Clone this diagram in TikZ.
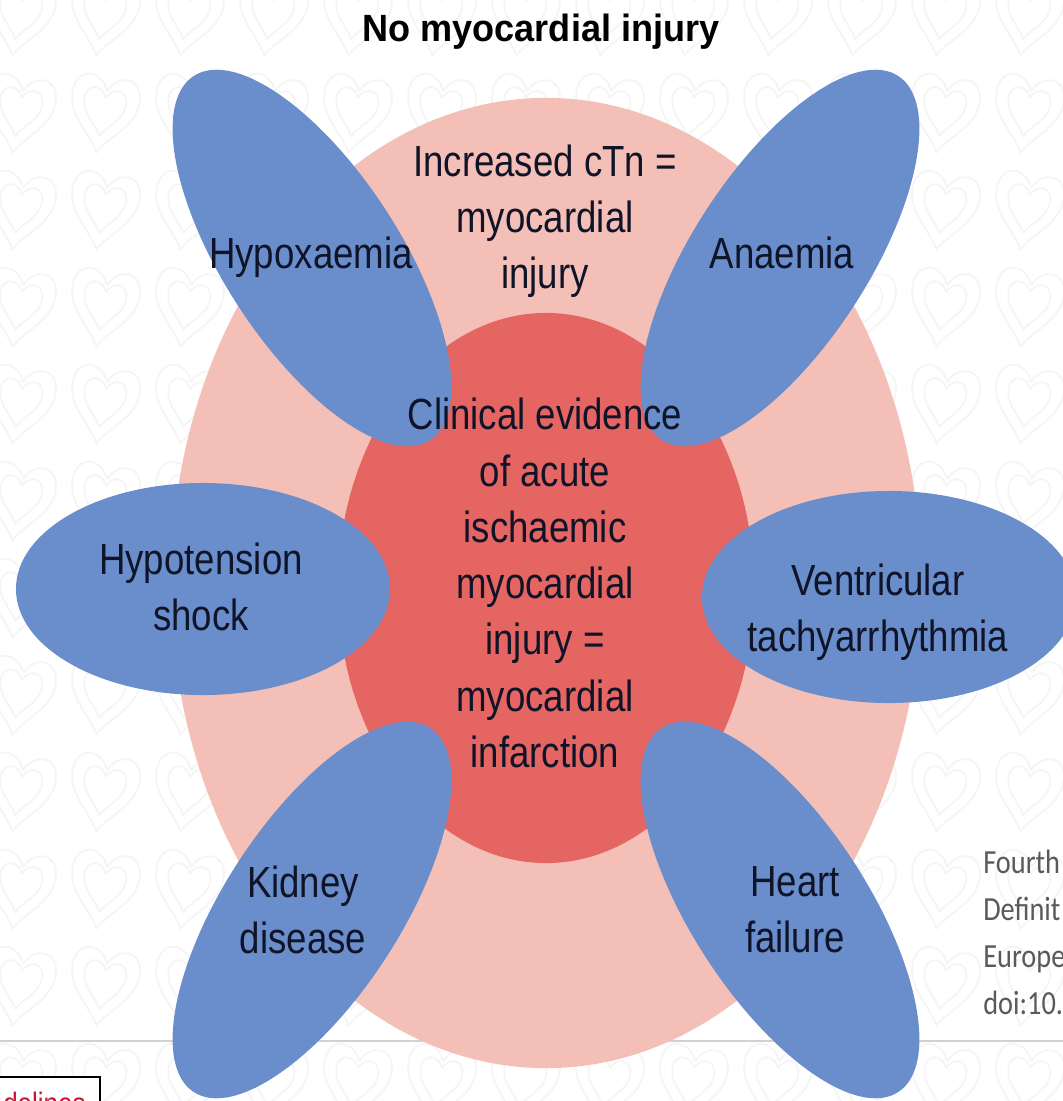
\documentclass[tikz,border=0pt]{standalone}
\usepackage{fontspec}
\setmainfont{Liberation Sans}
\newfontfamily\bodyfont{Liberation Sans}[FakeStretch=0.84]
\newfontfamily\titlefont{Liberation Sans}[FakeStretch=0.95]
\newfontfamily\citefont{Carlito}[FakeStretch=0.84]
\usetikzlibrary{shapes.geometric, positioning}

\definecolor{petalblue}{RGB}{105,142,203}
\definecolor{outerpink}{RGB}{244,191,182}
\definecolor{innerred}{RGB}{228,101,98}
\definecolor{inktext}{RGB}{16,20,40}
\definecolor{citegray}{RGB}{90,90,90}
\definecolor{guidered}{RGB}{200,20,50}

\newcommand\heartpath{(0,-18) .. controls (-8,-38) and (-34,-38) .. (-34,-12) .. controls (-34,12) and (-10,26) .. (0,44) .. controls (10,26) and (34,12) .. (34,-12) .. controls (34,-38) and (8,-38) .. (0,-18)}

\tikzset{
    zone/.style={ellipse, inner sep=0pt, draw=none}, % pink and red background ellipses
    petal/.style={ellipse, inner sep=0pt, fill=petalblue, minimum width=10.85cm, minimum height=4.4cm},
    sidepetal/.style={petal, minimum width=9.35cm, minimum height=5.3cm},
    bodytext/.style={align=center, text=inktext, inner sep=0pt, font=\bodyfont\fontsize{31}{40}\selectfont},
    citetext/.style={align=left, text=citegray, inner sep=0pt, font=\citefont\fontsize{24}{33.4}\selectfont},
    watermark/.style={draw=black!4, line width=1.3pt}
}

\begin{document}
\begin{tikzpicture}[x=0.025cm, y=-0.025cm]
    \useasboundingbox (0,0) rectangle (1063,1101);
    \clip (0,0) rectangle (1063,1101);
    \fill[white] (0,0) rectangle (1063,1101);

    % faint hearts in the background
    \foreach \r in {0,...,11}{
        \foreach \c in {0,...,13}{
            \begin{scope}[shift={(\c*84+20,\r*97+12)}, rotate=-10]
                \draw[watermark] \heartpath;
                \draw[watermark, scale=0.62] \heartpath;
            \end{scope}
        }
    }
    \draw[black!18, line width=1pt] (0,1041) -- (1063,1041);

    \node[zone, fill=outerpink, minimum width=18.75cm, minimum height=24.25cm] (injury) at (546,583) {};
    \node[zone, fill=innerred, minimum width=10.4cm, minimum height=13.75cm] (infarct) at (546,588) {};

    \node[petal, rotate=-57] (hypox) at (312,258) {};
    \node[petal, rotate=57] (anaem) at (780,258) {};
    \node[sidepetal] (hypot) at (203,589) {};
    \node[sidepetal] (ventr) at (889,597) {};
    \node[petal, rotate=57] (kidney) at (312,910) {};
    \node[petal, rotate=-57] (heartf) at (780,910) {};

    \node[font=\titlefont\bfseries\fontsize{27}{32}\selectfont, text=black] (title) at (541,32) {No myocardial injury};

    \node[bodytext] (injurytext) at (545,221) {Increased cTn =\\myocardial\\injury};
    \node[bodytext] (infarcttext) at (545,583) {Clinical evidence\\of acute\\ischaemic\\myocardial\\injury =\\myocardial\\infarction};

    \node[bodytext] at (311,257) {Hypoxaemia};
    \node[bodytext] at (782,253) {Anaemia};
    \node[bodytext] at (201,587) {Hypotension\\shock};
    \node[bodytext] at (878,612) {Ventricular\\tachyarrhythmia};
    \node[bodytext] at (303,910) {Kidney\\disease};
    \node[bodytext] at (795,910) {Heart\\failure};

    \node[citetext, anchor=north west] (cite) at (983,850) {Fourth\\Definit\\Europe\\doi:10.};

    \draw[black, line width=1.1pt, fill=white] (-10,1077) rectangle (100,1140);
    \node[anchor=base west, inner sep=0pt, text=guidered, font=\bodyfont\fontsize{22}{26}\selectfont] (guide) at (3,1114) {delines};
\end{tikzpicture}
\end{document}
